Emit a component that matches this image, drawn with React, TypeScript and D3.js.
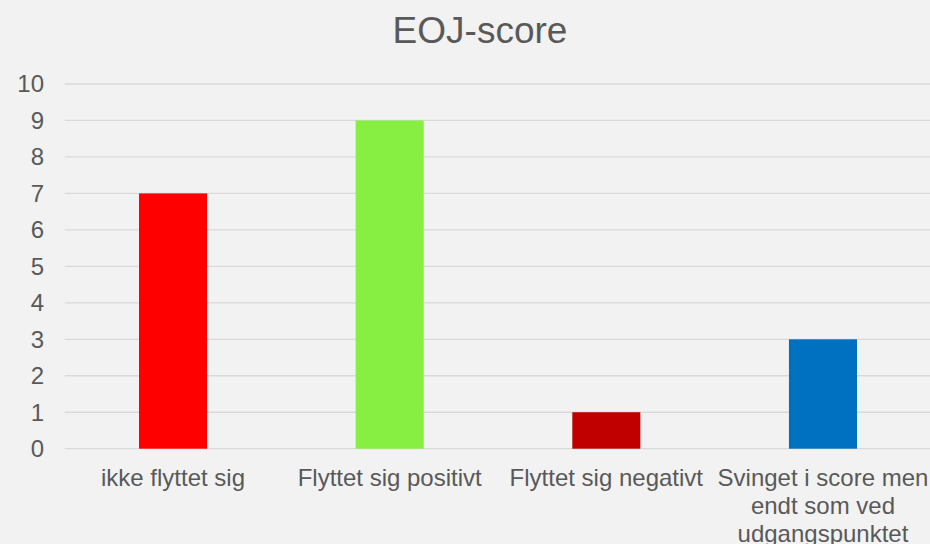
import React from "react";
import * as d3 from "d3";

const categories: string[][] = [
  ["ikke flyttet sig"],
  ["Flyttet sig positivt"],
  ["Flyttet sig negativt"],
  ["Svinget i score men", "endt som ved", "udgangspunktet"],
];
const values: number[] = [7, 9, 1, 3];
const colors: string[] = ["#ff0000", "#86ef41", "#c00000", "#0070c0"];
const yTicks: number[] = [0, 1, 2, 3, 4, 5, 6, 7, 8, 9, 10];
const title = "EOJ-score";

const W = 930;
const H = 544;
const left = 64.7;
const right = 931.3;
const top = 84;
const bottom = 448.7;

export default function App() {
  const x = d3
    .scaleBand<number>()
    .domain(d3.range(values.length))
    .range([left, right])
    .paddingInner(0.686)
    .paddingOuter(0.343);
  const y = d3.scaleLinear().domain([0, 10]).range([bottom, top]);
  const font = "'Liberation Sans', Arial, sans-serif";
  return (
    <svg
      width={W}
      height={H}
      style={{ position: "absolute", left: 0, top: 0, display: "block" }}
      fontFamily={font}
    >
      <rect x={0} y={0} width={W} height={H} fill="#f2f2f2" />
      <text x={480} y={43} textAnchor="middle" fontSize={37} fill="#595959">
        {title}
      </text>
      {yTicks.map((t) => (
        <g key={t}>
          <line x1={left} x2={W} y1={y(t)} y2={y(t)} stroke="#d9d9d9" strokeWidth={1.3} />
          <text x={44} y={y(t)} dy="0.35em" textAnchor="end" fontSize={24} fill="#595959">
            {t}
          </text>
        </g>
      ))}
      {values.map((v, i) => (
        <rect
          key={i}
          x={x(i)!}
          y={y(v)}
          width={x.bandwidth()}
          height={y(0) - y(v)}
          fill={colors[i]}
        />
      ))}
      {categories.map((lines, i) => (
        <text
          key={i}
          x={x(i)! + x.bandwidth() / 2}
          y={486}
          textAnchor="middle"
          fontSize={24}
          fill="#595959"
        >
          {lines.map((l, j) => (
            <tspan key={j} x={x(i)! + x.bandwidth() / 2} dy={j === 0 ? 0 : 28}>
              {l}
            </tspan>
          ))}
        </text>
      ))}
    </svg>
  );
}
